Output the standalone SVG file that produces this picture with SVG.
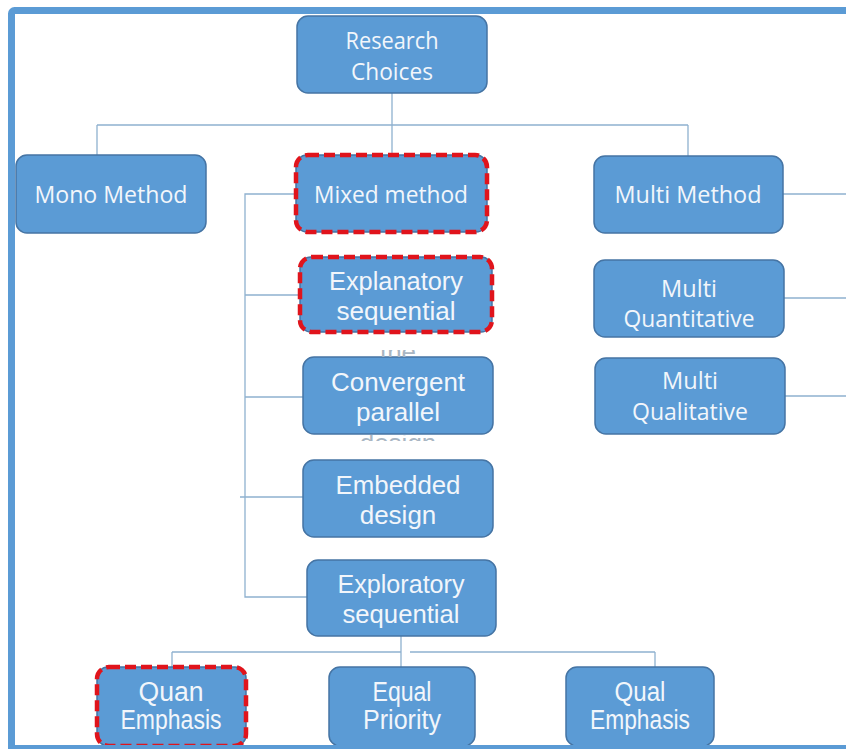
<svg xmlns="http://www.w3.org/2000/svg" width="846" height="749" viewBox="0 0 846 749">
  <defs>
    <style>
      .box { fill: #5b9bd5; stroke: #4574a4; stroke-width: 1.5; }
      .hl { fill: none; stroke: #e0141c; stroke-width: 4.5; stroke-dasharray: 11 5; }
      .link { fill: none; stroke: #8fb1cf; stroke-width: 1.3; }
      .cal { font-family: "Open Sans", "Lato", sans-serif; font-size: 24px; fill: #f2f6fb; text-anchor: middle; }
      .ar { font-family: "Liberation Sans", Arial, sans-serif; font-size: 26px; fill: #f2f6fb; text-anchor: middle; }
      .nar { font-family: "Liberation Sans", Arial, sans-serif; font-size: 27px; fill: #f2f6fb; text-anchor: middle; }
      .ghost { font-family: "Liberation Sans", Arial, sans-serif; font-size: 26px; fill: #a9b6c3; text-anchor: middle; }
    </style>
    <clipPath id="clipTop"><rect x="300" y="350" width="200" height="7"/></clipPath>
    <clipPath id="clipBot"><rect x="300" y="435" width="200" height="6"/></clipPath>
  </defs>

  <rect width="846" height="749" fill="#ffffff"/>

  <!-- outer frame -->
  <rect x="11.5" y="10.5" width="900" height="738" rx="3" fill="none" stroke="#5b9bd5" stroke-width="7"/>

  <!-- connectors -->
  <g id="connectors">
    <path class="link" d="M392 93 V155 M97 125 H688 M97 125 V155 M688 125 V156"/>
    <path class="link" d="M296 194 H245 V597 H307"/>
    <path class="link" d="M245 295 H300 M245 397 H303 M240 497 H303"/>
    <path class="link" d="M783 194 H846 M784 298 H846 M785 396 H846"/>
    <path class="link" d="M401 636 V667 M172 652 H401 M410 652 H655 M172 652 V667 M655 652 V667"/>
  </g>

  <g id="research-choices">
    <rect class="box" x="297" y="16" width="190" height="77" rx="11"/>
    <text class="cal" x="392" y="49" textLength="93" lengthAdjust="spacingAndGlyphs">Research</text>
    <text class="cal" x="392" y="80" textLength="82" lengthAdjust="spacingAndGlyphs">Choices</text>
  </g>

  <g id="mono-method">
    <rect class="box" x="16" y="155" width="190" height="78" rx="11"/>
    <text class="cal" x="111" y="203" textLength="153" lengthAdjust="spacingAndGlyphs">Mono Method</text>
  </g>

  <g id="mixed-method">
    <rect class="box" x="296" y="155" width="191" height="77" rx="11"/>
    <rect class="hl" x="296" y="155" width="191" height="77" rx="12"/>
    <text class="cal" x="391" y="203" textLength="154" lengthAdjust="spacingAndGlyphs">Mixed method</text>
  </g>

  <g id="multi-method">
    <rect class="box" x="594" y="156" width="189" height="77" rx="11"/>
    <text class="cal" x="688" y="203" textLength="147" lengthAdjust="spacingAndGlyphs">Multi Method</text>
  </g>

  <g id="explanatory-sequential">
    <rect class="box" x="300" y="257" width="192" height="75" rx="11"/>
    <rect class="hl" x="300" y="257" width="192" height="75" rx="12"/>
    <text class="ar" x="396" y="290" textLength="134" lengthAdjust="spacingAndGlyphs">Explanatory</text>
    <text class="ar" x="396" y="320" textLength="119" lengthAdjust="spacingAndGlyphs">sequential</text>
  </g>

  <g id="multi-quantitative">
    <rect class="box" x="594" y="260" width="190" height="77" rx="11"/>
    <text class="cal" x="689" y="297" textLength="56" lengthAdjust="spacingAndGlyphs">Multi</text>
    <text class="cal" x="689" y="327" textLength="131" lengthAdjust="spacingAndGlyphs">Quantitative</text>
  </g>

  <g id="convergent-parallel">
    <rect class="box" x="303" y="357" width="190" height="77" rx="11"/>
    <text class="ghost" x="398" y="361" clip-path="url(#clipTop)">the</text>
    <text class="ar" x="398" y="391" textLength="134" lengthAdjust="spacingAndGlyphs">Convergent</text>
    <text class="ar" x="398" y="421">parallel</text>
    <text class="ghost" x="398" y="452" clip-path="url(#clipBot)">design</text>
  </g>

  <g id="multi-qualitative">
    <rect class="box" x="595" y="358" width="190" height="76" rx="11"/>
    <text class="cal" x="690" y="389" textLength="56" lengthAdjust="spacingAndGlyphs">Multi</text>
    <text class="cal" x="690" y="420" textLength="116" lengthAdjust="spacingAndGlyphs">Qualitative</text>
  </g>

  <g id="embedded-design">
    <rect class="box" x="303" y="460" width="190" height="77" rx="11"/>
    <text class="ar" x="398" y="494" textLength="125" lengthAdjust="spacingAndGlyphs">Embedded</text>
    <text class="ar" x="398" y="524">design</text>
  </g>

  <g id="exploratory-sequential">
    <rect class="box" x="307" y="560" width="189" height="76" rx="11"/>
    <text class="ar" x="401" y="593" textLength="127" lengthAdjust="spacingAndGlyphs">Exploratory</text>
    <text class="ar" x="401" y="623" textLength="117" lengthAdjust="spacingAndGlyphs">sequential</text>
  </g>

  <g id="quan-emphasis">
    <rect class="box" x="97" y="667" width="149" height="79" rx="11"/>
    <rect class="hl" x="97" y="667" width="149" height="79" rx="12"/>
    <text class="nar" x="171" y="701" textLength="65" lengthAdjust="spacingAndGlyphs">Quan</text>
    <text class="nar" x="171" y="729" textLength="101" lengthAdjust="spacingAndGlyphs">Emphasis</text>
  </g>

  <g id="equal-priority">
    <rect class="box" x="329" y="667" width="146" height="79" rx="11"/>
    <text class="nar" x="402" y="701" textLength="59" lengthAdjust="spacingAndGlyphs">Equal</text>
    <text class="nar" x="402" y="729" textLength="78" lengthAdjust="spacingAndGlyphs">Priority</text>
  </g>

  <g id="qual-emphasis">
    <rect class="box" x="566" y="667" width="148" height="79" rx="11"/>
    <text class="nar" x="640" y="701" textLength="51" lengthAdjust="spacingAndGlyphs">Qual</text>
    <text class="nar" x="640" y="729" textLength="100" lengthAdjust="spacingAndGlyphs">Emphasis</text>
  </g>

  <!-- frame bottom edge drawn over the last row -->
  <rect x="8" y="745" width="838" height="4" fill="#5b9bd5"/>
</svg>
